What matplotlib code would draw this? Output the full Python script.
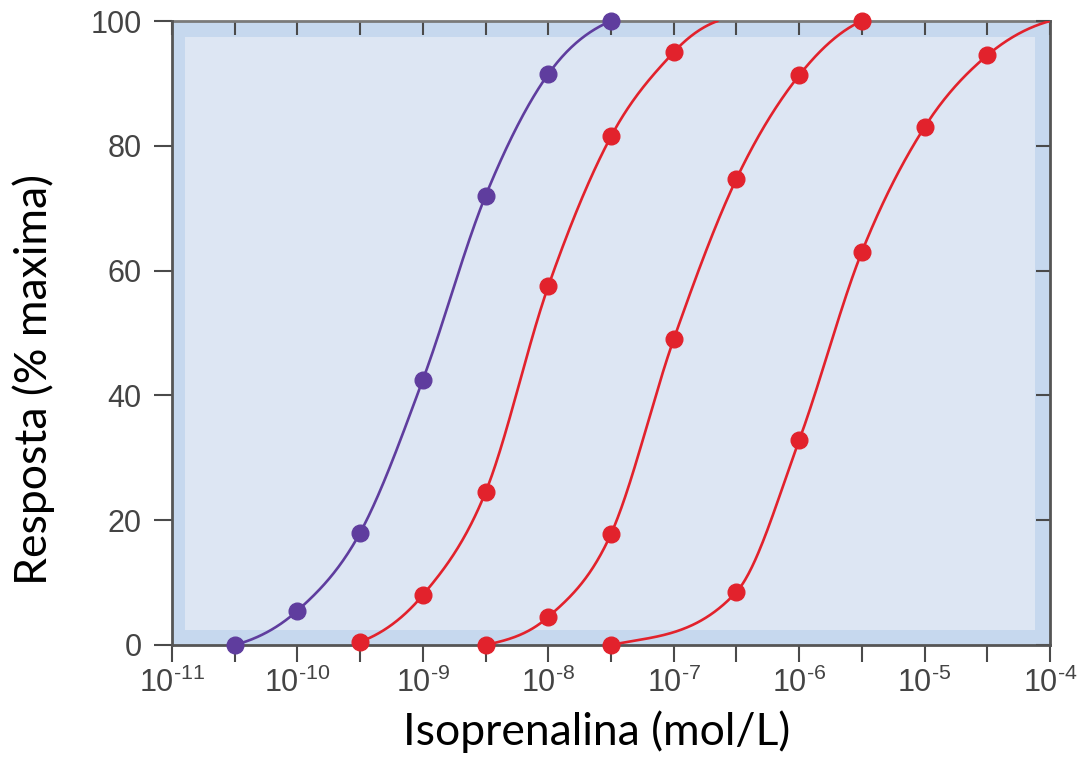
import numpy as np
import matplotlib
matplotlib.use('Agg')
import matplotlib.pyplot as plt
from matplotlib.patches import Rectangle
from matplotlib.ticker import FixedLocator, NullFormatter

# data: log10 concentration (mol/L) and response (% of maximum)
purple_logx = [-10.5, -10.0, -9.5, -9.0, -8.5, -8.0, -7.5]
purple_y = [0.0, 5.5, 18.0, 42.5, 72.0, 91.5, 100.0]

red1_logx = [-9.5, -9.0, -8.5, -8.0, -7.5, -7.0]
red1_y = [0.5, 8.0, 24.5, 57.5, 81.5, 95.0]

red2_logx = [-8.5, -8.0, -7.5, -7.0, -6.5, -6.0, -5.5]
red2_y = [0.0, 4.5, 17.8, 49.0, 74.7, 91.3, 100.0]

red3_logx = [-7.5, -6.5, -6.0, -5.5, -5.0, -4.5]
red3_y = [0.0, 8.5, 32.8, 63.0, 83.0, 94.5]

# where the drawn curves run on past the last dot
red1_end = (-6.65, 100.0)
red3_end = (-4.0, 100.0)

decades = [-11, -10, -9, -8, -7, -6, -5, -4]
decade_labels = ['10$^{\\text{-11}}$', '10$^{\\text{-10}}$', '10$^{\\text{-9}}$', '10$^{\\text{-8}}$',
                 '10$^{\\text{-7}}$', '10$^{\\text{-6}}$', '10$^{\\text{-5}}$', '10$^{\\text{-4}}$']
y_ticks = [0, 20, 40, 60, 80, 100]

PURPLE = '#5f3d9e'
RED = '#e2222c'
TICK_GRAY = '#4a4a4a'


def smooth(xk, yk, xs):
    # hermite cubic with centred slopes, only used to draw the smooth line
    xk = np.asarray(xk, float)
    yk = np.asarray(yk, float)
    n = len(xk)
    h = np.diff(xk)
    d = np.diff(yk) / h
    m = np.zeros(n)
    m[1:-1] = (yk[2:] - yk[:-2]) / (xk[2:] - xk[:-2])
    m[0] = 0.5 * d[0]
    m[-1] = 0.5 * d[-1]
    idx = np.clip(np.searchsorted(xk, xs) - 1, 0, n - 2)
    t = (xs - xk[idx]) / h[idx]
    h00 = 2 * t**3 - 3 * t**2 + 1
    h10 = t**3 - 2 * t**2 + t
    h01 = -2 * t**3 + 3 * t**2
    h11 = t**3 - t**2
    ys = h00 * yk[idx] + h10 * h[idx] * m[idx] + h01 * yk[idx + 1] + h11 * h[idx] * m[idx + 1]
    return np.clip(ys, 0, 100)


plt.rcParams['mathtext.fontset'] = 'custom'
plt.rcParams['mathtext.rm'] = 'Liberation Sans'
plt.rcParams['mathtext.it'] = 'Liberation Sans'

fig = plt.figure(figsize=(10.9, 7.73), dpi=100)
ax = fig.add_axes([0.1578, 0.1656, 0.8055, 0.8072])

# two-tone background: darker frame band, lighter inside
ax.set_facecolor('#c6d8ee')
ax.add_patch(Rectangle((0.015, 0.024), 0.968, 0.95, transform=ax.transAxes,
                       facecolor='#dde6f3', edgecolor='none', zorder=0))

series = [
    (purple_logx, purple_y, PURPLE, None),
    (red1_logx, red1_y, RED, red1_end),
    (red2_logx, red2_y, RED, None),
    (red3_logx, red3_y, RED, red3_end),
]
for lx, ly, col, end in series:
    cx = list(lx)
    cy = list(ly)
    if end is not None:
        cx.append(end[0])
        cy.append(end[1])
    xs = np.linspace(cx[0], cx[-1], 400)
    ys = smooth(cx, cy, xs)
    ax.plot(10**xs, ys, color=col, lw=1.9, zorder=3, solid_capstyle='round')
    ax.plot(10**np.asarray(lx), ly, 'o', color=col, ms=12, zorder=4, clip_on=False)

ax.set_xscale('log')
ax.set_xlim(1e-11, 1e-4)
ax.set_ylim(0, 100)

half = [10**(d + 0.5) for d in decades[:-1]]
ax.xaxis.set_major_locator(FixedLocator([10.0**d for d in decades]))
ax.xaxis.set_minor_locator(FixedLocator(half))
ax.xaxis.set_minor_formatter(NullFormatter())
ax.set_xticklabels(decade_labels)
ax.set_yticks(y_ticks)

ax.tick_params(axis='both', which='both', direction='out', color=TICK_GRAY,
               width=1.5, labelcolor='#444444', labelsize=22)
ax.tick_params(axis='x', which='both', length=12, pad=4)
ax.tick_params(axis='y', which='both', length=13, pad=9)
for lab in ax.get_xticklabels() + ax.get_yticklabels():
    lab.set_family('Liberation Sans')

# inward ticks on top and right
top = ax.secondary_xaxis('top')
top.xaxis.set_major_locator(FixedLocator(half + [10.0**d for d in decades]))
top.xaxis.set_minor_locator(FixedLocator([]))
top.tick_params(direction='in', length=10, width=1.5, color=TICK_GRAY, labeltop=False)
top.spines['top'].set_color('#7a7a7a')
top.spines['top'].set_linewidth(2)
right = ax.secondary_yaxis('right')
right.set_yticks(y_ticks)
right.tick_params(direction='in', length=10, width=1.5, color=TICK_GRAY, labelright=False)
right.spines['right'].set_color('#555555')
right.spines['right'].set_linewidth(2)

for s in ['left', 'bottom']:
    ax.spines[s].set_color('#555555')
    ax.spines[s].set_linewidth(2)
ax.spines['top'].set_visible(False)
ax.spines['right'].set_visible(False)

ax.set_xlabel('Isoprenalina (mol/L)', fontsize=32, family='Lato')
ax.set_ylabel('Resposta (% maxima)', fontsize=32, family='Lato')
ax.xaxis.set_label_coords(0.484, -0.105)
ax.yaxis.set_label_coords(-0.133, 0.425)

fig.savefig('out.png', dpi=100)
